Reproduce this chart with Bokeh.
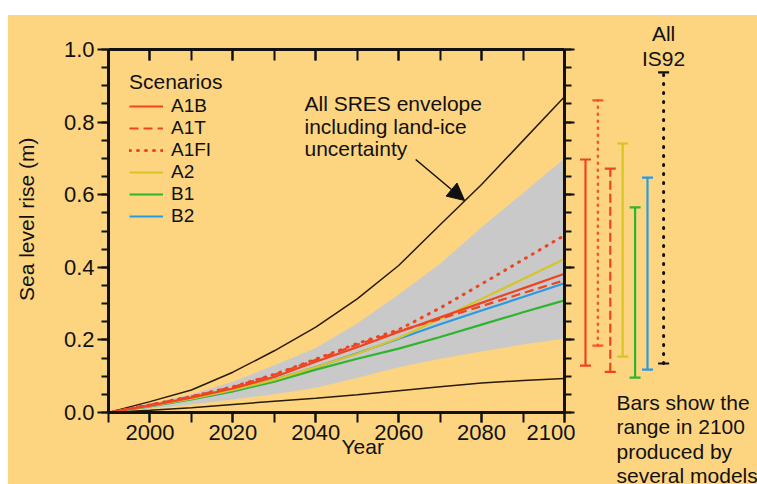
import math
from bokeh.plotting import figure
from bokeh.models import (Range1d, LinearAxis, SingleIntervalTicker, PrintfTickFormatter,
                          CustomJSTickFormatter, Label, Arrow, NormalHead, Spacer)
from bokeh.layouts import row, column
from bokeh.embed import file_html
from bokeh.resources import INLINE

# ---------------- data ----------------
years = [1990, 2000, 2010, 2020, 2030, 2040, 2050, 2060, 2070, 2080, 2090, 2100]
envelope_upper = [0, 0.030, 0.062, 0.111, 0.170, 0.235, 0.313, 0.405, 0.517, 0.628, 0.749, 0.870]
envelope_lower = [0, 0.006, 0.013, 0.022, 0.031, 0.039, 0.049, 0.060, 0.071, 0.081, 0.088, 0.094]
sres_upper = [0, 0.025, 0.050, 0.085, 0.130, 0.178, 0.245, 0.325, 0.410, 0.510, 0.605, 0.700]
sres_lower = [0, 0.010, 0.022, 0.036, 0.050, 0.068, 0.095, 0.125, 0.148, 0.168, 0.187, 0.204]
a1b = [0, 0.019, 0.041, 0.066, 0.098, 0.140, 0.180, 0.222, 0.262, 0.302, 0.342, 0.382]
a1t = [0, 0.021, 0.044, 0.070, 0.104, 0.145, 0.187, 0.224, 0.258, 0.293, 0.329, 0.364]
a1fi = [0, 0.021, 0.044, 0.071, 0.105, 0.147, 0.190, 0.228, 0.288, 0.354, 0.421, 0.488]
a2 = [0, 0.018, 0.038, 0.062, 0.090, 0.125, 0.162, 0.205, 0.258, 0.313, 0.368, 0.423]
b1 = [0, 0.017, 0.036, 0.058, 0.085, 0.118, 0.148, 0.176, 0.208, 0.242, 0.276, 0.309]
b2 = [0, 0.018, 0.038, 0.061, 0.090, 0.125, 0.163, 0.203, 0.243, 0.281, 0.318, 0.356]

bar_names = ["A1B", "A1FI", "A1T", "A2", "B1", "B2"]
bar_high = [0.697, 0.860, 0.672, 0.741, 0.565, 0.647]
bar_low = [0.129, 0.184, 0.112, 0.154, 0.096, 0.118]
is92_high = 0.937
is92_low = 0.135

y_tick_step = 0.2
x_tick_step = 20

# ---------------- style ----------------
BG = "#FDD580"
FONT = "Liberation Sans"
RED = "#EE4422"
YEL = "#D8C424"
GRN = "#2DB52D"
BLU = "#2A9AE0"
GRAY = "#C9C9C9"
INK = "#111111"
NBSP = "\u00a0"

PAGE_L, PAGE_T = 8, 15
FW, FH = 456, 363
BL, BR, BT, BB = 100, 11, 34, 72
X0, X1 = 1990, 2100

p = figure(frame_width=FW, frame_height=FH,
           x_range=Range1d(X0, X1), y_range=Range1d(0, 1),
           output_backend="svg", toolbar_location=None,
           x_axis_location=None, y_axis_location=None,
           min_border_left=BL, min_border_right=BR, min_border_top=BT, min_border_bottom=BB,
           background_fill_color=BG, border_fill_color=BG, outline_line_color=None)
p.grid.visible = False

# envelope
p.varea(x=years, y1=sres_lower, y2=sres_upper, fill_color=GRAY)
p.line(years, envelope_upper, line_color="#2a1a0a", line_width=1.5)
p.line(years, envelope_lower, line_color="#2a1a0a", line_width=1.5)

# scenarios
p.line(years, b1, line_color=GRN, line_width=2.2, legend_label="B1")
p.line(years, b2, line_color=BLU, line_width=2.2, legend_label="B2")
p.line(years, a2, line_color=YEL, line_width=2.2, legend_label="A2")
p.line(years, a1fi, line_color=RED, line_width=3, line_dash="1 7", line_cap="round",
       legend_label="A1FI")
p.line(years, a1t, line_color=RED, line_width=2.2, line_dash="9 5", legend_label="A1T")
p.line(years, a1b, line_color=RED, line_width=2.2, legend_label="A1B")

# legend
leg = p.legend[0]
order = ["A1B", "A1T", "A1FI", "A2", "B1", "B2"]
leg.items = sorted(leg.items, key=lambda it: order.index(it.label.value))
leg.title = "Scenarios"
leg.title_text_font = FONT
leg.title_text_font_size = "21px"
leg.title_text_font_style = "normal"
leg.title_text_color = INK
leg.title_standoff = 1
leg.label_text_font = FONT
leg.label_text_font_size = "19px"
leg.label_text_color = INK
leg.label_standoff = 8
leg.glyph_width = 34
leg.glyph_height = 18
leg.label_height = 18
leg.spacing = 0
leg.padding = 3
leg.margin = 21
leg.location = "top_left"
leg.background_fill_alpha = 0
leg.border_line_color = None

# axes
def yticker():
    return SingleIntervalTicker(interval=y_tick_step, num_minor_ticks=4)

def xticker():
    return SingleIntervalTicker(interval=x_tick_step, num_minor_ticks=2)

common = dict(axis_line_width=3, axis_line_color=INK, major_tick_line_width=2,
              minor_tick_line_width=2, major_tick_line_color=INK, minor_tick_line_color=INK)
blank = CustomJSTickFormatter(code="return ''")
label_style = dict(axis_label_text_font=FONT, axis_label_text_font_size="21px",
                   axis_label_text_font_style="normal", axis_label_text_color=INK)
bare = dict(formatter=blank, major_tick_out=0, major_tick_in=0, minor_tick_out=0,
            minor_tick_in=0, axis_line_color=None, major_tick_line_color=None,
            minor_tick_line_color=None, major_label_text_font_size="1px",
            major_label_standoff=0)

left = LinearAxis(ticker=yticker(), formatter=PrintfTickFormatter(format="%.1f"),
                  major_tick_out=11, major_tick_in=0, minor_tick_out=7, minor_tick_in=0,
                  major_label_text_font=FONT, major_label_text_font_size="22px",
                  major_label_text_color=INK, major_label_standoff=3, **common)
right = LinearAxis(ticker=yticker(), formatter=blank, major_tick_out=10, major_tick_in=0,
                   minor_tick_out=7, minor_tick_in=0, major_label_text_font_size="10px",
                   major_label_standoff=0, **common)
bottom = LinearAxis(ticker=xticker(), formatter=PrintfTickFormatter(format="%d"),
                    major_tick_out=10, major_tick_in=0, minor_tick_out=10, minor_tick_in=0,
                    major_label_text_font=FONT, major_label_text_font_size="22px",
                    major_label_text_color=INK, major_label_standoff=2, **common)
top = LinearAxis(ticker=xticker(), formatter=blank, major_tick_out=0, major_tick_in=11,
                 minor_tick_out=0, minor_tick_in=11, major_label_text_font_size="10px",
                 major_label_standoff=0, **common)

# axis titles on bare axes; leading no-break spaces move the visible words off-centre
xlab = LinearAxis(ticker=xticker(), axis_label=NBSP * 9 + "Year",
                  axis_label_standoff=-8, **label_style, **bare)
ylab = LinearAxis(ticker=yticker(), axis_label=NBSP * 4 + "Sea level rise (m)",
                  axis_label_standoff=23, **label_style, **bare)

p.add_layout(left, "left")
p.add_layout(ylab, "left")
p.add_layout(right, "right")
p.add_layout(bottom, "below")
p.add_layout(xlab, "below")
p.add_layout(top, "above")

def lbl(fig, text, x, y, **kw):
    opts = dict(x_units="screen", y_units="screen", text_font=FONT, text_font_size="21px",
                text_color=INK, text_baseline="middle", text_align="left")
    opts.update(kw)
    fig.add_layout(Label(x=x, y=y, text=text, **opts))

# annotation (screen offsets from the frame's bottom-left corner)
for i, t in enumerate(["All SRES envelope", "including land-ice", "uncertainty"]):
    lbl(p, t, 196, 309 - 22.5 * i)
p.add_layout(Arrow(end=NormalHead(size=17, fill_color=INK, line_color=INK),
                   x_start=2064.1, y_start=0.697, x_end=2075.9, y_end=0.584,
                   line_width=1.5, line_color=INK))

# ---------------- right panel with bars ----------------
RW = 757 - PAGE_L - (BL + FW + BR)
RH = BT + FH + BB
unit = 12.4
x0 = -10 / unit
p2 = figure(width=RW, height=RH, x_range=Range1d(x0, x0 + RW / unit),
            y_range=Range1d(-BB / FH, 1 + BT / FH),
            output_backend="svg", toolbar_location=None,
            x_axis_location=None, y_axis_location=None,
            min_border=0, min_border_left=0, min_border_right=0,
            min_border_top=0, min_border_bottom=0,
            background_fill_color=BG, border_fill_color=BG, outline_line_color=None)
p2.grid.visible = False

bar_styles = {
    "A1B": (RED, "solid", 2.2),
    "A1FI": ("#F05A28", "1 6", 2.6),
    "A1T": (RED, "9 4", 2.2),
    "A2": (YEL, "solid", 2.2),
    "B1": (GRN, "solid", 2.2),
    "B2": (BLU, "solid", 2.2),
    "IS92": (INK, "1 8", 3),
}
names = bar_names + ["IS92"]
highs = bar_high + [is92_high]
lows = bar_low + [is92_low]
xs = list(range(len(bar_names))) + [len(bar_names) + 0.3]
for nm, xv, hi, lo in zip(names, xs, highs, lows):
    col, dash, lw = bar_styles[nm]
    p2.segment(x0=[xv], y0=[lo], x1=[xv], y1=[hi], line_color=col, line_width=lw,
               line_dash=dash, line_cap="round" if dash.startswith("1 ") else "butt")
    p2.scatter(x=[xv, xv], y=[lo, hi], marker="dash", size=11, line_color=col,
               line_width=2.2)

is92_x = xs[-1]
lbl(p2, "All", is92_x, RH - 33 + PAGE_T, x_units="data", text_align="center")
lbl(p2, "IS92", is92_x, RH - 58 + PAGE_T, x_units="data", text_align="center")
for i, t in enumerate(["Bars show the", "range in 2100", "produced by", "several models"]):
    lbl(p2, t, 41, RH - (402 - PAGE_T) - 24.3 * i)

layout = column(Spacer(height=PAGE_T, width=757),
                row(Spacer(width=PAGE_L, height=RH),
                    row(p, column(p2), spacing=0, styles={"background-color": BG}),
                    spacing=0),
                spacing=0)
open("out.html", "w").write(file_html(layout, INLINE))
